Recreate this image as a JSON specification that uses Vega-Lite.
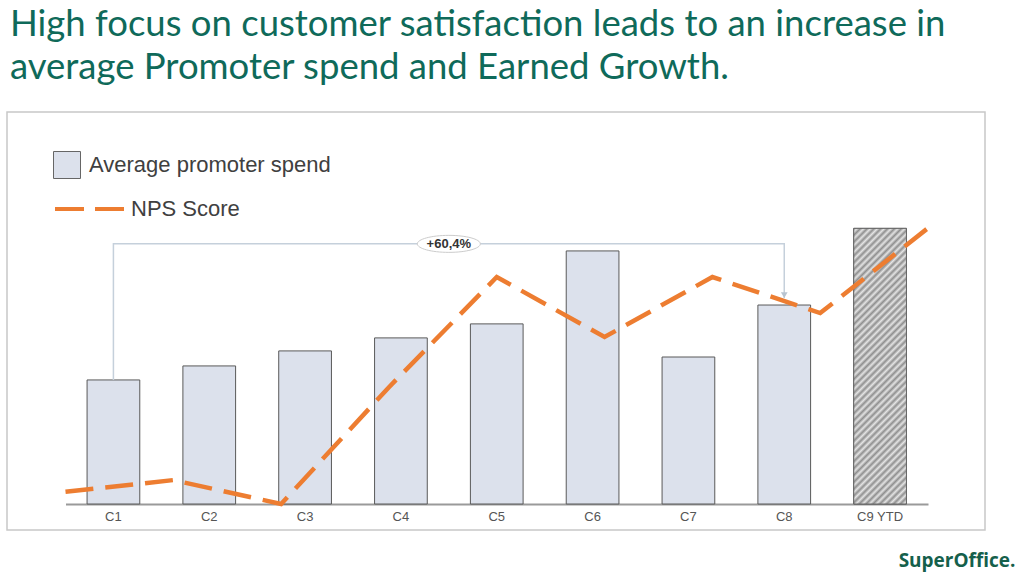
{
  "$schema": "https://vega.github.io/schema/vega-lite/v6.json",
  "width": 978,
  "height": 418,
  "autosize": {"type": "none"},
  "padding": {"left": 7, "top": 112, "right": 39, "bottom": 44},
  "background": "white",
  "title": {
    "text": ["High focus on customer satisfaction leads to an increase in", "average Promoter spend and Earned Growth."],
    "anchor": "start",
    "frame": "group",
    "font": "Lato",
    "fontSize": 36.5,
    "fontWeight": "normal",
    "color": "#0f6a5a",
    "lineHeight": 43,
    "baseline": "bottom",
    "offset": 22,
    "dx": 3,
    "dy": 33
  },
  "config": {
    "view": {"stroke": "#c8c8c8", "strokeWidth": 1.5},
    "axis": {"grid": false}
  },
  "datasets": {
    "periods": [
      {"period": "C1", "spend": 100, "nps": 3.1},
      {"period": "C2", "spend": 111.3, "nps": 6.1},
      {"period": "C3", "spend": 123.4, "nps": 0},
      {"period": "C4", "spend": 133.9, "nps": 29.8},
      {"period": "C5", "spend": 145.2, "nps": 57.9},
      {"period": "C6", "spend": 204, "nps": 42.6},
      {"period": "C7", "spend": 118.5, "nps": 57.9},
      {"period": "C8", "spend": 160.4, "nps": 48.7},
      {"period": "C9 YTD", "spend": 222.2, "nps": 70.4}
    ],
    "bracket": [
      {"period": "C1", "spend": 100, "step": 1},
      {"period": "C1", "spend": 209.7, "step": 2},
      {"period": "C8", "spend": 209.7, "step": 3},
      {"period": "C8", "spend": 166, "step": 4}
    ],
    "growth": [
      {"period": "C1", "spend": 209.7, "label": "+60,4%"}
    ]
  },
  "layer": [
    {
      "encoding": {
        "x": {
          "field": "period",
          "type": "nominal",
          "scale": {
            "type": "band",
            "domain": ["C1", "C2", "C3", "C4", "C5", "C6", "C7", "C8", "C9 YTD"],
            "range": [58.5, 921],
            "paddingInner": 0.45,
            "paddingOuter": 0.225
          },
          "axis": {
            "title": "SuperOffice.",
            "titleX": 1008,
            "titleY": 62,
            "titleAlign": "right",
            "titleBaseline": "alphabetic",
            "titleFont": "Open Sans",
            "titleFontSize": 19,
            "titleFontWeight": "bold",
            "titleColor": "#15604b",
            "offset": -26,
            "ticks": false,
            "domainColor": "#9a9a9a",
            "domainWidth": 2,
            "labelAngle": 0,
            "labelFont": "Liberation Sans",
            "labelFontSize": 13,
            "labelColor": "#555555",
            "labelPadding": 6
          }
        }
      },
      "layer": [
        {
          "data": {"name": "periods"},
          "mark": {"type": "bar", "stroke": "#595959", "strokeWidth": 1},
          "encoding": {
            "y": {"field": "spend", "type": "quantitative", "scale": {"domain": [0, 316], "range": [392, 0]}, "axis": null},
            "fill": {
              "datum": "Average promoter spend",
              "scale": {"range": ["#dce1ec"]},
              "legend": {
                "orient": "none",
                "legendX": 46,
                "legendY": 39,
                "title": null,
                "padding": 0,
                "symbolType": "square",
                "symbolSize": 729,
                "symbolStrokeColor": "#666666",
                "symbolStrokeWidth": 1,
                "labelFont": "Liberation Sans",
                "labelFontSize": 22,
                "labelColor": "#404040",
                "labelOffset": 8,
                "labelLimit": 400
              }
            }
          }
        },
        {
          "data": {"name": "periods"},
          "transform": [{"filter": "datum.period === 'C9 YTD'"}],
          "mark": {
            "type": "bar",
            "stroke": "#666666",
            "strokeWidth": 1,
            "fill": {
              "gradient": "linear",
              "x1": 0, "y1": 0, "x2": 0.23, "y2": 1.2,
              "stops": [
                {"offset": 0.00, "color": "#8f8f8f"}, {"offset": 0.01, "color": "#e4e4e4"},
                {"offset": 0.02, "color": "#8f8f8f"}, {"offset": 0.03, "color": "#e4e4e4"},
                {"offset": 0.04, "color": "#8f8f8f"}, {"offset": 0.05, "color": "#e4e4e4"},
                {"offset": 0.06, "color": "#8f8f8f"}, {"offset": 0.07, "color": "#e4e4e4"},
                {"offset": 0.08, "color": "#8f8f8f"}, {"offset": 0.09, "color": "#e4e4e4"},
                {"offset": 0.10, "color": "#8f8f8f"}, {"offset": 0.11, "color": "#e4e4e4"},
                {"offset": 0.12, "color": "#8f8f8f"}, {"offset": 0.13, "color": "#e4e4e4"},
                {"offset": 0.14, "color": "#8f8f8f"}, {"offset": 0.15, "color": "#e4e4e4"},
                {"offset": 0.16, "color": "#8f8f8f"}, {"offset": 0.17, "color": "#e4e4e4"},
                {"offset": 0.18, "color": "#8f8f8f"}, {"offset": 0.19, "color": "#e4e4e4"},
                {"offset": 0.20, "color": "#8f8f8f"}, {"offset": 0.21, "color": "#e4e4e4"},
                {"offset": 0.22, "color": "#8f8f8f"}, {"offset": 0.23, "color": "#e4e4e4"},
                {"offset": 0.24, "color": "#8f8f8f"}, {"offset": 0.25, "color": "#e4e4e4"},
                {"offset": 0.26, "color": "#8f8f8f"}, {"offset": 0.27, "color": "#e4e4e4"},
                {"offset": 0.28, "color": "#8f8f8f"}, {"offset": 0.29, "color": "#e4e4e4"},
                {"offset": 0.30, "color": "#8f8f8f"}, {"offset": 0.31, "color": "#e4e4e4"},
                {"offset": 0.32, "color": "#8f8f8f"}, {"offset": 0.33, "color": "#e4e4e4"},
                {"offset": 0.34, "color": "#8f8f8f"}, {"offset": 0.35, "color": "#e4e4e4"},
                {"offset": 0.36, "color": "#8f8f8f"}, {"offset": 0.37, "color": "#e4e4e4"},
                {"offset": 0.38, "color": "#8f8f8f"}, {"offset": 0.39, "color": "#e4e4e4"},
                {"offset": 0.40, "color": "#8f8f8f"}, {"offset": 0.41, "color": "#e4e4e4"},
                {"offset": 0.42, "color": "#8f8f8f"}, {"offset": 0.43, "color": "#e4e4e4"},
                {"offset": 0.44, "color": "#8f8f8f"}, {"offset": 0.45, "color": "#e4e4e4"},
                {"offset": 0.46, "color": "#8f8f8f"}, {"offset": 0.47, "color": "#e4e4e4"},
                {"offset": 0.48, "color": "#8f8f8f"}, {"offset": 0.49, "color": "#e4e4e4"},
                {"offset": 0.50, "color": "#8f8f8f"}, {"offset": 0.51, "color": "#e4e4e4"},
                {"offset": 0.52, "color": "#8f8f8f"}, {"offset": 0.53, "color": "#e4e4e4"},
                {"offset": 0.54, "color": "#8f8f8f"}, {"offset": 0.55, "color": "#e4e4e4"},
                {"offset": 0.56, "color": "#8f8f8f"}, {"offset": 0.57, "color": "#e4e4e4"},
                {"offset": 0.58, "color": "#8f8f8f"}, {"offset": 0.59, "color": "#e4e4e4"},
                {"offset": 0.60, "color": "#8f8f8f"}, {"offset": 0.61, "color": "#e4e4e4"},
                {"offset": 0.62, "color": "#8f8f8f"}, {"offset": 0.63, "color": "#e4e4e4"},
                {"offset": 0.64, "color": "#8f8f8f"}, {"offset": 0.65, "color": "#e4e4e4"},
                {"offset": 0.66, "color": "#8f8f8f"}, {"offset": 0.67, "color": "#e4e4e4"},
                {"offset": 0.68, "color": "#8f8f8f"}, {"offset": 0.69, "color": "#e4e4e4"},
                {"offset": 0.70, "color": "#8f8f8f"}, {"offset": 0.71, "color": "#e4e4e4"},
                {"offset": 0.72, "color": "#8f8f8f"}, {"offset": 0.73, "color": "#e4e4e4"},
                {"offset": 0.74, "color": "#8f8f8f"}, {"offset": 0.75, "color": "#e4e4e4"},
                {"offset": 0.76, "color": "#8f8f8f"}, {"offset": 0.77, "color": "#e4e4e4"},
                {"offset": 0.78, "color": "#8f8f8f"}, {"offset": 0.79, "color": "#e4e4e4"},
                {"offset": 0.80, "color": "#8f8f8f"}, {"offset": 0.81, "color": "#e4e4e4"},
                {"offset": 0.82, "color": "#8f8f8f"}, {"offset": 0.83, "color": "#e4e4e4"},
                {"offset": 0.84, "color": "#8f8f8f"}, {"offset": 0.85, "color": "#e4e4e4"},
                {"offset": 0.86, "color": "#8f8f8f"}, {"offset": 0.87, "color": "#e4e4e4"},
                {"offset": 0.88, "color": "#8f8f8f"}, {"offset": 0.89, "color": "#e4e4e4"},
                {"offset": 0.90, "color": "#8f8f8f"}, {"offset": 0.91, "color": "#e4e4e4"},
                {"offset": 0.92, "color": "#8f8f8f"}, {"offset": 0.93, "color": "#e4e4e4"},
                {"offset": 0.94, "color": "#8f8f8f"}, {"offset": 0.95, "color": "#e4e4e4"},
                {"offset": 0.96, "color": "#8f8f8f"}, {"offset": 0.97, "color": "#e4e4e4"},
                {"offset": 0.98, "color": "#8f8f8f"}, {"offset": 0.99, "color": "#e4e4e4"},
                {"offset": 1.00, "color": "#8f8f8f"}
              ]
            }
          },
          "encoding": {
            "y": {"field": "spend", "type": "quantitative", "scale": {"domain": [0, 316], "range": [392, 0]}, "axis": null}
          }
        },
        {
          "data": {"name": "bracket"},
          "mark": {"type": "line", "color": "#c5d0db", "strokeWidth": 1.5},
          "encoding": {
            "y": {"field": "spend", "type": "quantitative", "scale": {"domain": [0, 316], "range": [392, 0]}, "axis": null},
            "order": {"field": "step"}
          }
        },
        {
          "data": {"name": "bracket"},
          "transform": [{"filter": "datum.step === 4"}],
          "mark": {"type": "point", "shape": "triangle-down", "filled": true, "size": 45, "color": "#b8c4d0", "opacity": 1, "yOffset": -3},
          "encoding": {
            "y": {"field": "spend", "type": "quantitative", "scale": {"domain": [0, 316], "range": [392, 0]}, "axis": null}
          }
        },
        {
          "data": {"name": "growth"},
          "mark": {
            "type": "point",
            "shape": "M -1 0 A 1 0.27 0 1 0 1 0 A 1 0.27 0 1 0 -1 0 Z",
            "size": 3969,
            "filled": true,
            "fill": "white",
            "stroke": "#cccccc",
            "strokeWidth": 1,
            "opacity": 1
          },
          "encoding": {
            "x": {"field": "period", "type": "nominal", "bandPosition": 6.8636},
            "y": {"field": "spend", "type": "quantitative", "scale": {"domain": [0, 316], "range": [392, 0]}, "axis": null}
          }
        },
        {
          "data": {"name": "growth"},
          "mark": {"type": "text", "font": "Liberation Sans", "fontSize": 13, "fontWeight": "bold", "color": "#333333", "baseline": "middle"},
          "encoding": {
            "x": {"field": "period", "type": "nominal", "bandPosition": 6.8636},
            "y": {"field": "spend", "type": "quantitative", "scale": {"domain": [0, 316], "range": [392, 0]}, "axis": null},
            "text": {"field": "label"}
          }
        }
      ]
    },
    {
      "data": {"name": "periods"},
      "mark": {"type": "line", "strokeWidth": 4.5, "strokeDash": [28, 12]},
      "encoding": {
        "x": {
          "field": "period",
          "type": "nominal",
          "sort": null,
          "scale": {"type": "point", "padding": 0, "range": [58.5, 921]},
          "axis": null
        },
        "y": {"field": "nps", "type": "quantitative", "scale": {"domain": [0, 100], "range": [392, 0]}, "axis": null},
        "stroke": {
          "datum": "NPS Score",
          "scale": {"range": ["#ed7d31"]},
          "legend": {
            "orient": "none",
            "legendX": 46,
            "legendY": 60,
            "title": null,
            "padding": 0,
            "symbolType": "stroke",
            "symbolSize": 4900,
            "symbolStrokeWidth": 4,
            "symbolDash": [29, 11],
            "labelFont": "Liberation Sans",
            "labelFontSize": 22,
            "labelColor": "#404040",
            "labelOffset": 4,
            "labelLimit": 400
          }
        }
      }
    }
  ],
  "resolve": {"scale": {"x": "independent", "y": "independent"}}
}
